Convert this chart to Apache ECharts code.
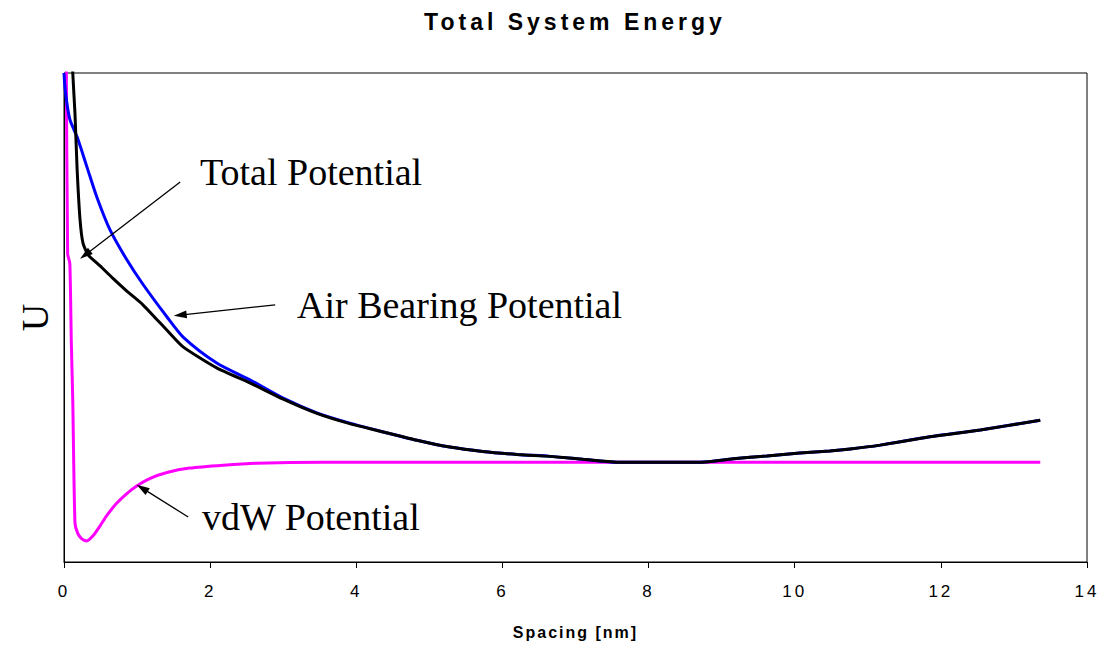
<!DOCTYPE html>
<html>
<head>
<meta charset="utf-8">
<script src="https://cdn.jsdelivr.net/npm/echarts@6/dist/echarts.min.js"></script>
<style>
html,body{margin:0;padding:0;background:#fff;}
#main{width:1107px;height:649px;}
#main text[style*="23px"]{letter-spacing:4px;}
#main text[style*="17px"]{letter-spacing:3px;}
#main text[style*="16px"]{letter-spacing:2px;}
</style>
</head>
<body>
<div id="main"></div>
<script>
// ---- data (x in nm, U in arbitrary units 0..100) ----
const airX = [0.00, 0.02, 0.08, 0.18, 0.32, 0.45, 0.63, 0.86, 1.08, 1.41, 1.63, 2.09, 2.55, 3.00, 3.46, 3.91, 4.37, 4.83, 5.28, 5.73, 6.20, 6.65, 7.10, 7.57, 8.10, 8.70, 9.16, 9.62, 10.07, 10.48, 10.76, 11.17, 11.85, 12.54, 13.36];
const airY = [100.0, 96.0, 90.5, 86.9, 80.5, 74.6, 67.9, 61.8, 56.8, 50.1, 46.0, 40.7, 37.2, 33.5, 30.5, 28.4, 26.6, 24.9, 23.5, 22.6, 22.0, 21.6, 21.0, 20.4, 20.4, 20.4, 21.1, 21.7, 22.3, 22.7, 23.1, 23.9, 25.6, 27.0, 29.0];

const totalX = [0.11, 0.12, 0.15, 0.18, 0.22, 0.26, 0.33, 0.49, 0.67, 0.86, 1.08, 1.27, 1.41, 1.63, 2.09, 2.55, 3.00, 3.46, 3.91, 4.37, 4.83, 5.28, 5.73, 6.20, 6.65, 7.10, 7.57, 8.10, 8.70, 9.16, 9.62, 10.07, 10.48, 10.76, 11.17, 11.85, 12.54, 13.36];
const totalY = [106.0, 100.0, 91.8, 80.2, 69.9, 65.2, 62.8, 60.6, 58.0, 55.4, 52.6, 49.6, 47.4, 44.0, 39.7, 36.6, 33.3, 30.4, 28.3, 26.6, 24.9, 23.5, 22.6, 22.0, 21.6, 21.0, 20.4, 20.4, 20.4, 21.1, 21.7, 22.3, 22.7, 23.1, 23.9, 25.6, 27.0, 29.0];

const vdwX = [0.03, 0.05, 0.08, 0.10, 0.12, 0.15, 0.19, 0.24, 0.31, 0.40, 0.49, 0.58, 0.72, 0.86, 0.99, 1.18, 1.41, 1.72, 2.18, 2.64, 3.54, 13.36];
const vdwY = [106.0, 63.0, 61.0, 45.0, 33.0, 8.0, 5.8, 4.8, 4.3, 5.4, 7.3, 9.4, 12.0, 14.0, 15.5, 17.1, 18.3, 19.2, 19.8, 20.2, 20.4, 20.4];

const xTicks = [0, 2, 4, 6, 8, 10, 12, 14];

// annotation arrows: [fromX, fromY, toX, toY] in data units
const arrowTotal = [1.59, 77.7, 0.29, 62.8];
const arrowAir = [2.89, 52.6, 1.59, 50.5];
const arrowVdw = [1.70, 9.2, 1.07, 15.1];

const labels = ['Total Potential', 'Air Bearing Potential', 'vdW Potential'];

function pairs(xs, ys) { return xs.map((x, i) => [x, ys[i]]); }
function arrow(a) { return [{coord: [a[0], a[1]], symbol: 'none'}, {coord: [a[2], a[3]], symbol: 'triangle'}]; }

const chart = echarts.init(document.getElementById('main'), null, {renderer: 'svg'});
const serif = '"Liberation Serif", "Times New Roman", serif';
const sans = '"Liberation Sans", Arial, sans-serif';

chart.setOption({
  animation: false,
  backgroundColor: '#fff',
  grid: {left: 64, right: 20, top: 73, bottom: 87, show: true, borderColor: '#000', borderWidth: 1, backgroundColor: 'transparent'},
  xAxis: {
    type: 'value', min: xTicks[0], max: xTicks[xTicks.length - 1], interval: 2,
    axisLine: {show: true, lineStyle: {color: '#000', width: 1}},
    axisTick: {show: true, inside: false, length: 6, lineStyle: {color: '#000'}},
    axisLabel: {color: '#000', fontSize: 17, fontFamily: sans, margin: 21},
    splitLine: {show: false},
    name: 'Spacing [nm]', nameLocation: 'middle', nameGap: 62,
    nameTextStyle: {color: '#000', fontSize: 16, fontWeight: 'bold', fontFamily: sans}
  },
  yAxis: {
    type: 'value', min: 0, max: 100,
    axisLine: {show: true, lineStyle: {color: '#000', width: 1}},
    axisTick: {show: false}, axisLabel: {show: false}, splitLine: {show: false},
    name: 'U', nameLocation: 'middle', nameRotate: 90, nameGap: 10,
    nameTextStyle: {color: '#000', fontSize: 38, fontFamily: serif}
  },
  series: [
    {
      name: 'vdW Potential', type: 'line', data: pairs(vdwX, vdwY), showSymbol: false, clip: true,
      smooth: 0.2,
      lineStyle: {color: '#FF00FF', width: 3}, z: 2,
      markLine: {
        silent: true, animation: false, symbolSize: [8, 13],
        lineStyle: {color: '#000', width: 1.3, type: 'solid'}, label: {show: false},
        emphasis: {disabled: true},
        data: [arrow(arrowTotal), arrow(arrowAir), arrow(arrowVdw)]
      }
    },
    {name: 'Air Bearing Potential', type: 'line', data: pairs(airX, airY), showSymbol: false, clip: true,
      smooth: 0.25,
      lineStyle: {color: '#0000FF', width: 3}, z: 3},
    {name: 'Total Potential', type: 'line', data: pairs(totalX, totalY), showSymbol: false, clip: true,
      smooth: 0.2,
      lineStyle: {color: '#000000', width: 3}, z: 4}
  ],
  graphic: [
    {type: 'text', x: 575, y: 10, style: {text: 'Total System Energy', font: 'bold 23px "Liberation Sans"', fill: '#000', align: 'center', verticalAlign: 'top'}},
    {type: 'text', left: 200, top: 153, style: {text: labels[0], font: '38px "Liberation Serif"', fill: '#000'}},
    {type: 'text', left: 297, top: 286, style: {text: labels[1], font: '38px "Liberation Serif"', fill: '#000'}},
    {type: 'text', left: 202, top: 498, style: {text: labels[2], font: '38px "Liberation Serif"', fill: '#000'}}
  ]
});
</script>
</body>
</html>
